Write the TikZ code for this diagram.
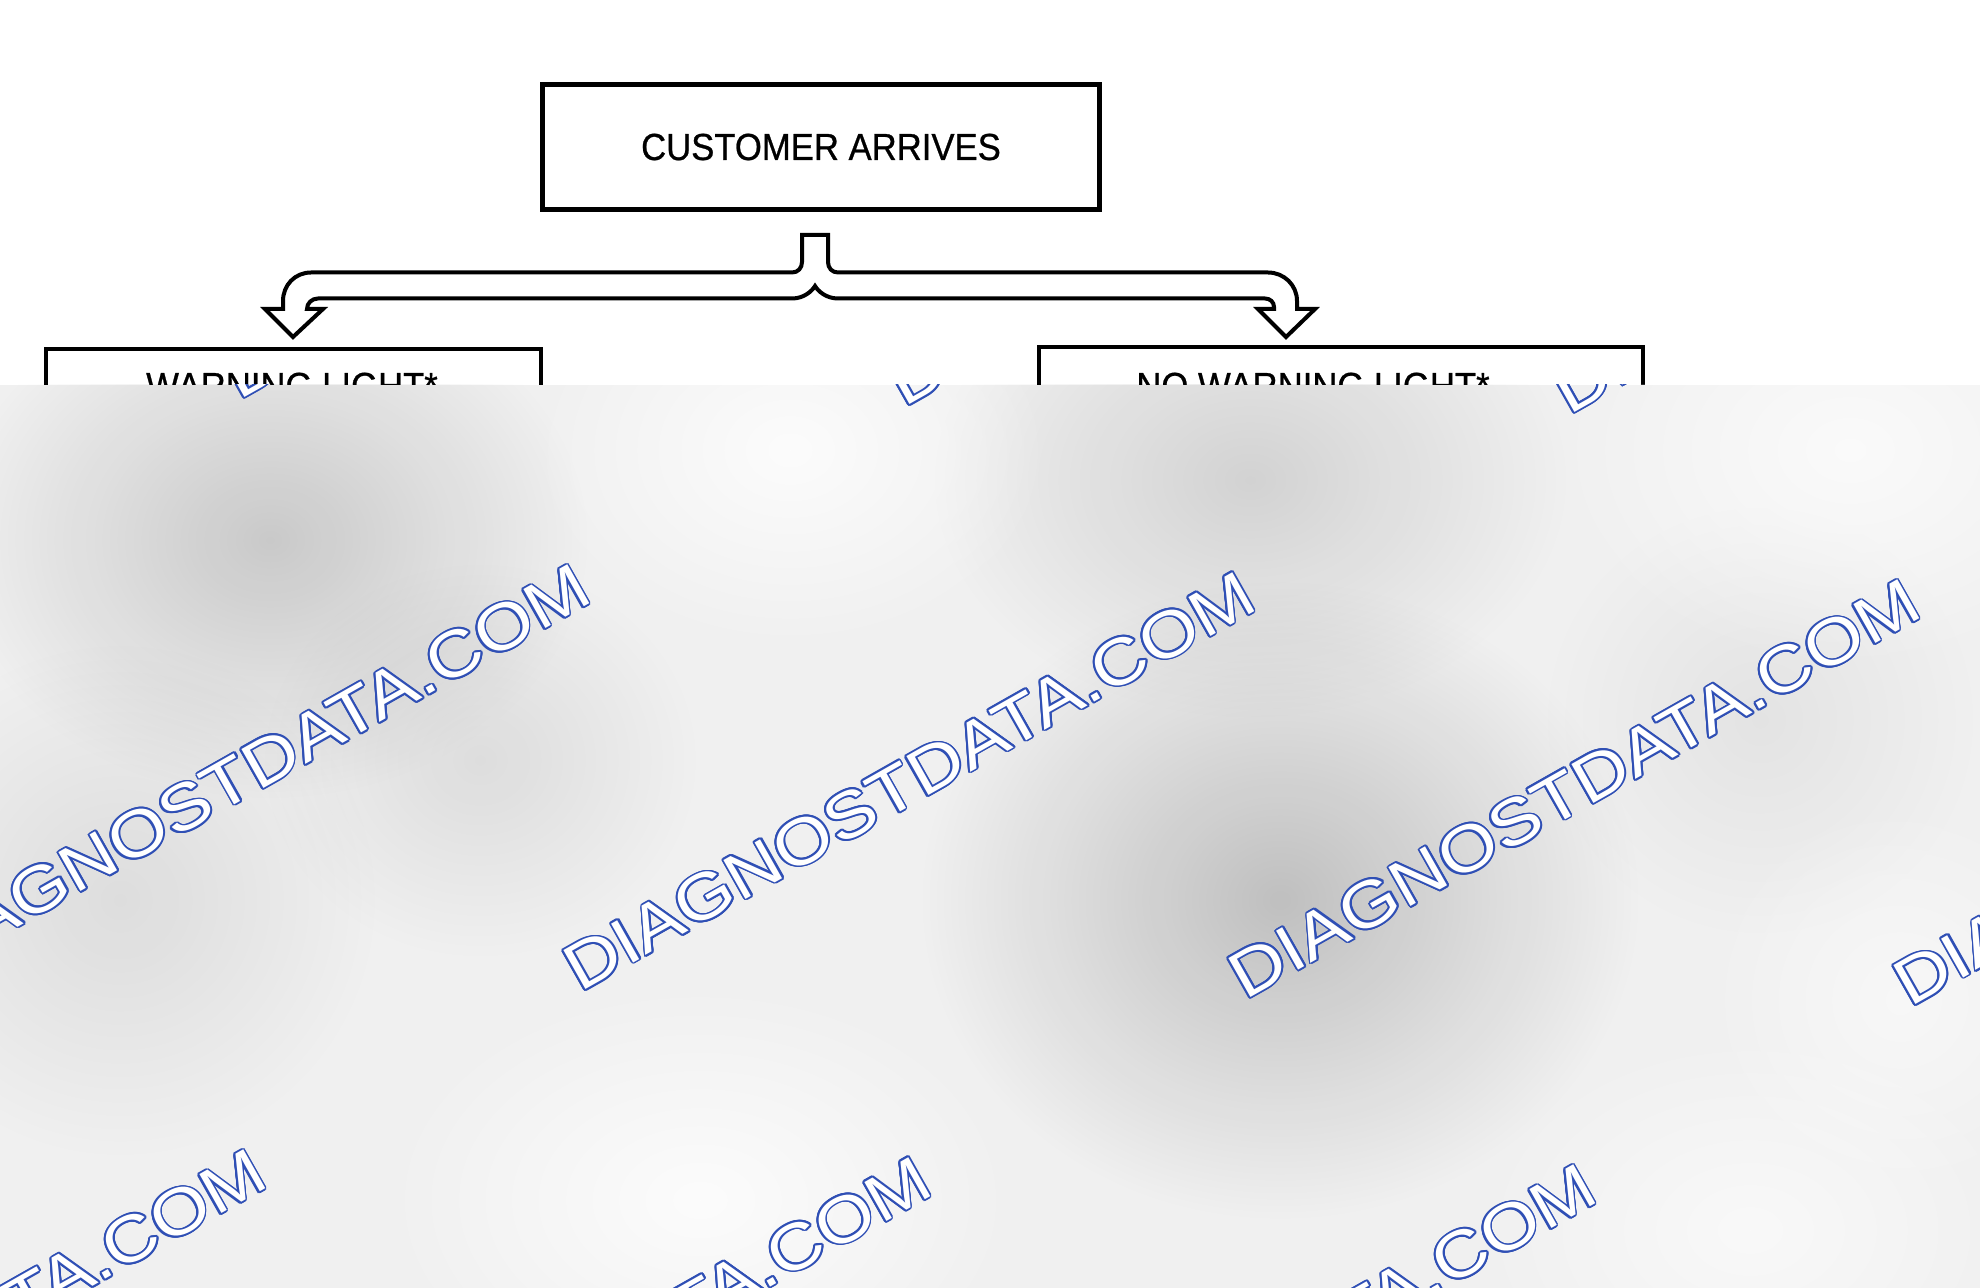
\documentclass[tikz,border=0pt]{standalone}
\usepackage{fontspec}
\setmainfont{Liberation Sans}
\newfontfamily\boxfont{Liberation Sans}[FakeBold=0.7]
\usepackage{contour}
\contourlength{0.85pt}
\usetikzlibrary{fadings}
\tikzfading[name=softblob, inner color=transparent!0, outer color=transparent!100]
\definecolor{wmblue}{HTML}{2F4FB5}
\definecolor{haze}{HTML}{F0F0F0}
\tikzset{
  boxline/.style={draw=black, line width=2.3pt, fill=white},
  arrowline/.style={draw=black, line width=2pt, fill=white, line join=miter},
  boxtext/.style={font=\boxfont\fontsize{18.85}{22}\selectfont, inner sep=0pt, anchor=base},
  wmtext/.style={font=\fontsize{32.5}{36}\selectfont, text=white, inner sep=0pt, anchor=base west, rotate=29.5},
  blob/.style={fill=black, path fading=softblob},
  wblob/.style={fill=white, path fading=softblob}
}
\newcommand{\wm}{\scalebox{1.16}[1]{\contour{wmblue}{DIAGNOSTDATA.COM}}}
\newcommand{\bt}[1]{\scalebox{0.92}[1]{#1}}
\begin{document}
\begin{tikzpicture}[x=0.5pt,y=-0.5pt]
\useasboundingbox (0,0) rectangle (1980,1288);
\fill[white] (0,0) rectangle (1980,1288);

% top box
\draw[boxline] (542.5,84.5) rectangle (1099.5,209.5);
\node[boxtext] (cust) at (821,160) {\bt{CUSTOMER ARRIVES}};

% lower boxes
\draw[boxline] (46,349) rectangle (541,470);
\node[boxtext] (warn) at (292,399) {\bt{WARNING LIGHT*}};
\draw[boxline] (1039,347) rectangle (1643,470);
\node[boxtext] (nowarn) at (1313,399) {\bt{NO WARNING LIGHT*}};

% split arrow
\draw[arrowline]
  (802,235) -- (828,235) -- (828,262)
  .. controls (828,268) and (832,272.5) .. (838,272.5)
  -- (1268,272.5)
  .. controls (1284,272.5) and (1297,285) .. (1297,301)
  -- (1297,309) -- (1315,309) -- (1286,337) -- (1258,309) -- (1274,309) -- (1274,307)
  .. controls (1274,302) and (1270,298.5) .. (1265,298.5)
  -- (838,298.5)
  .. controls (826,298.5) and (818,291) .. (815,286)
  .. controls (812,291) and (804,298.5) .. (792,298.5)
  -- (318,298.5)
  .. controls (312,298.5) and (307,303) .. (307,309)
  -- (323,309) -- (293,337) -- (265,309) -- (283,309) -- (283,301)
  .. controls (283,285) and (295,272.5) .. (311,272.5)
  -- (792,272.5)
  .. controls (798,272.5) and (802,268) .. (802,262)
  -- cycle;

% haze overlay
\begin{scope}
\clip (0,385) rectangle (1980,1288);
\fill[haze] (0,385) rectangle (1980,1288);
\fill[blob, opacity=0.16] (270,540) ellipse [x radius=320, y radius=260];
\fill[blob, opacity=0.08] (120,900) ellipse [x radius=260, y radius=260];
\fill[blob, opacity=0.08] (480,760) ellipse [x radius=220, y radius=200];
\fill[blob, opacity=0.12] (1250,480) ellipse [x radius=320, y radius=240];
\fill[blob, opacity=0.20] (1280,900) ellipse [x radius=360, y radius=320];
\fill[blob, opacity=0.05] (1760,720) ellipse [x radius=220, y radius=220];
\fill[wblob, opacity=0.8] (790,450) ellipse [x radius=260, y radius=200];
\fill[wblob, opacity=0.8] (700,1200) ellipse [x radius=320, y radius=220];
\fill[wblob, opacity=0.6] (1750,1230) ellipse [x radius=280, y radius=200];
\fill[wblob, opacity=0.7] (1850,450) ellipse [x radius=300, y radius=220];
\fill[wblob, opacity=0.5] (1900,1000) ellipse [x radius=200, y radius=200];
% watermark lattice
\foreach \i in {-1,0,1,2} {
  \foreach \j in {-1,0,1} {
    \node[wmtext] at ({580+665*\i-324*\j},{993+7.5*\i+585*\j}) {\wm};
  }
}
\end{scope}
\end{tikzpicture}
\end{document}
